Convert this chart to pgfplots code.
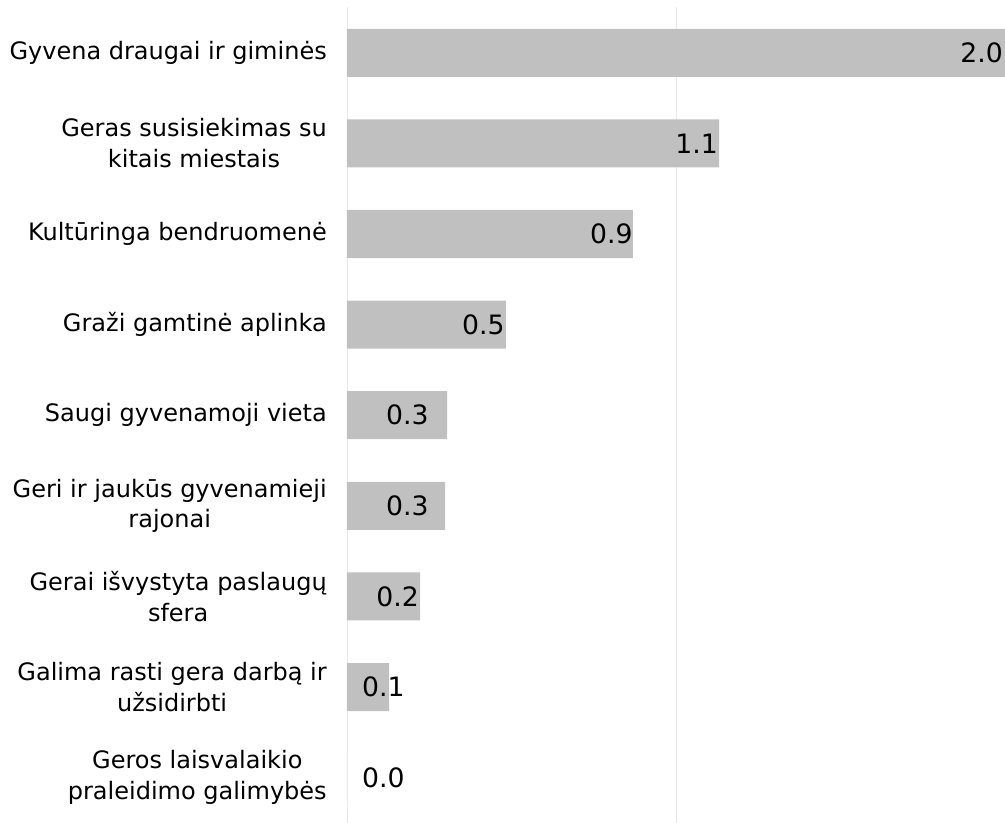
\documentclass[border=0pt]{standalone}
\usepackage{pgfplots}
\pgfplotsset{compat=1.18}
\usepackage{pgfplotstable}
\usepackage{fontspec}
\setmainfont{DejaVu Sans}
\definecolor{barg}{HTML}{C0C0C0}
\definecolor{gridg}{HTML}{EBEBEB}

\pgfplotstableread{
y val labx lab
0 2.000 1.994 2.0
1 1.131 1.128 1.1
2 0.869 0.869 0.9
3 0.483 0.480 0.5
4 0.304 0.249 0.3
5 0.298 0.249 0.3
6 0.222 0.219 0.2
7 0.128 0.176 0.1
8 0.000 0.176 0.0
}\datatable

\begin{document}
\begin{tikzpicture}
\begin{axis}[
  scale only axis,
  width=493.5pt, height=611.6pt,
  xmin=0, xmax=2,
  ymin=-0.5, ymax=8.5,
  y dir=reverse,
  axis line style={draw=none},
  xtick={0,1,2},
  xticklabels={},
  xmajorgrids,
  grid style={gridg, line width=0.6pt},
  major tick length=0pt,
  ytick={0,1,2,3,4,5,6,7,8},
  yticklabels={
    Gyvena draugai ir giminės,
    {Geras susisiekimas su\\kitais miestais},
    Kultūringa bendruomenė,
    Graži gamtinė aplinka,
    Saugi gyvenamoji vieta,
    {Geri ir jaukūs gyvenamieji\\rajonai},
    {Gerai išvystyta paslaugų\\sfera},
    {Galima rasti gera darbą ir\\užsidirbti},
    {Geros laisvalaikio\\praleidimo galimybės}
  },
  yticklabel style={font=\fontsize{18}{23}\selectfont, align=center, inner sep=0pt, xshift=-15pt, text=black},
  clip=false,
]
\addplot[xbar, bar width=0.53, fill=barg, draw=none, bar shift=0pt] table[x=val, y=y] {\datatable};
\addplot[draw=none, mark=none, nodes near coords, point meta=explicit symbolic,
  nodes near coords style={anchor=east, inner sep=0pt, font=\fontsize{20}{24}\selectfont, text=black}]
  table[x=labx, y=y, meta=lab] {\datatable};
\end{axis}
\pgfresetboundingbox
\useasboundingbox ([xshift=-260.25pt]current axis.south west) rectangle ([yshift=5.6pt]current axis.north east);
\end{tikzpicture}
\end{document}
